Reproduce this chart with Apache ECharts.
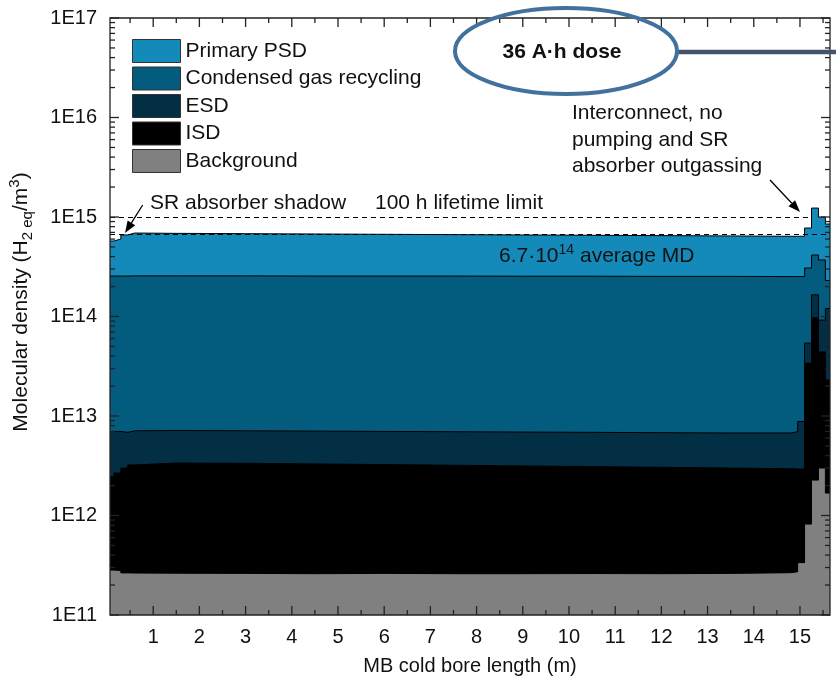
<!DOCTYPE html>
<html><head><meta charset="utf-8">
<script src="https://cdn.jsdelivr.net/npm/echarts@6/dist/echarts.min.js"></script>
<style>html,body{margin:0;padding:0;background:#fff}#c{width:836px;height:687px}</style>
</head><body><div id="c"></div>
<script>
// ---- data (upper boundary of each stacked layer, H2eq/m3) ----
const seriesNames = ['Primary PSD', 'Condensed gas recycling', 'ESD', 'ISD', 'Background'];
const seriesColors = ['#138ABA', '#035B7D', '#032F45', '#000000', '#808080'];
// left edge of each bin along the cold bore (m); last entry closes the final bin
const xEdges = [0.065, 0.15, 0.3, 0.45, 0.6, 1.5, 3, 4.5, 6, 7.5, 9, 10.5, 12, 13.5, 14.8, 14.95, 15.1, 15.25, 15.4, 15.55, 15.65];
const psdTop = [5.74e14, 6.0e14, 6.6e14, 6.9e14, 6.85e14, 6.8e14, 6.75e14, 6.7e14, 6.65e14, 6.6e14, 6.55e14, 6.5e14, 6.45e14, 6.4e14, 6.4e14, 6.4e14, 7.75e14, 1.23e15, 1.0e15, 8.5e14, 8.5e14];
const condensedTop = [2.55e14, 2.55e14, 2.55e14, 2.56e14, 2.56e14, 2.56e14, 2.55e14, 2.55e14, 2.55e14, 2.54e14, 2.54e14, 2.53e14, 2.53e14, 2.52e14, 2.52e14, 2.52e14, 3.07e14, 4.15e14, 3.7e14, 2.3e14, 2.3e14];
const esdTop = [7.0e12, 7.0e12, 6.85e12, 7.1e12, 7.15e12, 7.1e12, 7.05e12, 7.0e12, 6.95e12, 6.9e12, 6.85e12, 6.8e12, 6.75e12, 6.75e12, 6.95e12, 8.8e12, 5.4e13, 1.65e14, 9.2e13, 1.2e14, 1.2e14];
const isdTop = [2.46e12, 2.67e12, 3.0e12, 3.22e12, 3.37e12, 3.35e12, 3.3e12, 3.25e12, 3.2e12, 3.15e12, 3.1e12, 3.05e12, 3.0e12, 2.95e12, 2.93e12, 2.93e12, 3.4e13, 9.7e13, 4.4e13, 2.3e13, 2.3e13];
const backgroundTop = [2.83e11, 2.8e11, 2.65e11, 2.64e11, 2.63e11, 2.62e11, 2.6e11, 2.62e11, 2.6e11, 2.6e11, 2.61e11, 2.6e11, 2.62e11, 2.66e11, 2.72e11, 3.36e11, 8.2e11, 2.27e12, 3.0e12, 1.68e12, 1.68e12];
const layerValues = [psdTop, condensedTop, esdTop, isdTop, backgroundTop];
const lifetimeLimit = 1.0e15;
const averageMD = 6.7e14;
// ---- axes ----
const X_MIN = 0.065, X_MAX = 15.65;
const Y_MIN = 1e11, Y_MAX = 1e17;
const xLabelValues = [1,2,3,4,5,6,7,8,9,10,11,12,13,14,15];
const xMinorValues = [0.5,1.5,2.5,3.5,4.5,5.5,6.5,7.5,8.5,9.5,10.5,11.5,12.5,13.5,14.5,15.5];
const yMajorValues = [1e11,1e12,1e13,1e14,1e15,1e16,1e17];
const yMinorValues = [];
for (let e = 11; e < 17; e++) for (let k = 2; k <= 9; k++) yMinorValues.push(k * Math.pow(10, e));

const FONT = '"Liberation Sans", Arial, Helvetica, sans-serif';
const TXT = '#111';

const chart = echarts.init(document.getElementById('c'), null, {renderer: 'canvas'});

function layer(i) {
  const s = {
    name: seriesNames[i], type: 'line', step: 'end', symbol: 'none', showSymbol: false, silent: true,
    data: xEdges.map((x, j) => [x, layerValues[i][j]]),
    lineStyle: {color: '#000', width: 1},
    itemStyle: {color: seriesColors[i]},
    areaStyle: {color: seriesColors[i], opacity: 1, origin: 'start'},
    z: 2
  };
  if (i === 0) {
    s.markLine = {
      silent: true, symbol: 'none', label: {show: false},
      lineStyle: {color: '#000', type: [5, 4], width: 1.2},
      data: [
        [{coord: [X_MIN, lifetimeLimit]}, {coord: [15.25, lifetimeLimit]}],
        {yAxis: averageMD}
      ]
    };
  }
  return s;
}

const yTickData = yMajorValues.map(v => [X_MIN, v, 9]).concat(yMinorValues.map(v => [X_MIN, v, 5]));
const xTickData = xLabelValues.map(v => [v, Y_MIN, 9]).concat(xMinorValues.map(v => [v, Y_MIN, 5]));
const tickStyle = {stroke: '#222', lineWidth: 1.3};

const series = seriesNames.map((_, i) => layer(i));
series.push({
  type: 'custom', name: 'yticks', silent: true, clip: false, z: 10,
  encode: {x: 0, y: 1}, data: yTickData,
  renderItem: (params, api) => {
    const v = api.value(1), len = api.value(2);
    const a = api.coord([X_MIN, v]), b = api.coord([X_MAX, v]);
    return {type: 'group', children: [
      {type: 'line', shape: {x1: a[0], y1: a[1], x2: a[0] + len, y2: a[1]}, style: tickStyle},
      {type: 'line', shape: {x1: b[0], y1: b[1], x2: b[0] - len, y2: b[1]}, style: tickStyle}
    ]};
  }
});
series.push({
  type: 'custom', name: 'xticks', silent: true, clip: false, z: 10,
  encode: {x: 0, y: 1}, data: xTickData,
  renderItem: (params, api) => {
    const v = api.value(0), len = api.value(2);
    const a = api.coord([v, Y_MIN]), b = api.coord([v, Y_MAX]);
    return {type: 'group', children: [
      {type: 'line', shape: {x1: a[0], y1: a[1], x2: a[0], y2: a[1] - len}, style: tickStyle},
      {type: 'line', shape: {x1: b[0], y1: b[1], x2: b[0], y2: b[1] + len}, style: tickStyle}
    ]};
  }
});
series.push({
  type: 'custom', name: 'frame', silent: true, clip: false, z: 11,
  encode: {x: 0, y: 1}, data: [[X_MIN, Y_MIN]],
  renderItem: (params, api) => {
    const p = api.coord([X_MIN, Y_MAX]), q = api.coord([X_MAX, Y_MIN]);
    return {type: 'rect', shape: {x: p[0], y: p[1], width: q[0] - p[0], height: q[1] - p[1]},
      style: {fill: 'none', stroke: '#222', lineWidth: 1.3}};
  }
});

function arrow(x1, y1, x2, y2) {
  const dx = x2 - x1, dy = y2 - y1, L = Math.hypot(dx, dy);
  const ux = dx / L, uy = dy / L, hl = 12, hw = 4.5;
  const bx = x2 - ux * hl, by = y2 - uy * hl;
  return [
    {type: 'line', shape: {x1, y1, x2: bx, y2: by}, style: {stroke: '#000', lineWidth: 1.3}, z: 120},
    {type: 'polygon', shape: {points: [[x2, y2], [bx - uy * hw, by + ux * hw], [bx + uy * hw, by - ux * hw]]}, style: {fill: '#000'}, z: 120}
  ];
}

const option = {
  animation: false,
  backgroundColor: '#fff',
  grid: {left: 110, top: 18, width: 720, height: 597, containLabel: false},
  legend: {
    orient: 'vertical', left: 132, top: 39, padding: 0,
    itemWidth: 48, itemHeight: 23, itemGap: 3.5, icon: 'rect', selectedMode: false,
    textStyle: {fontSize: 21, color: TXT, fontFamily: FONT},
    data: seriesNames.map((n, i) => ({name: n, itemStyle: {color: seriesColors[i], borderColor: '#333', borderWidth: 1}}))
  },
  xAxis: {
    type: 'value', min: X_MIN, max: X_MAX,
    axisLine: {show: false}, axisTick: {show: false}, splitLine: {show: false},
    axisLabel: {customValues: xLabelValues, fontSize: 20, color: TXT, fontFamily: FONT, margin: 12},
    name: 'MB cold bore length (m)', nameLocation: 'middle', nameGap: 41,
    nameTextStyle: {fontSize: 20, color: TXT, fontFamily: FONT}
  },
  yAxis: {
    type: 'log', logBase: 10, min: Y_MIN, max: Y_MAX,
    axisLine: {show: false}, axisTick: {show: false}, splitLine: {show: false},
    axisLabel: {fontSize: 20, color: TXT, fontFamily: FONT, margin: 13,
      formatter: v => '1E' + Math.round(Math.log10(v))}
  },
  series: series,
  graphic: [
    {type: 'text', x: 21, y: 302, rotation: Math.PI / 2, style: {
      text: '{t|Molecular density (H}{sub|2 eq}{t|/m}{sup|3}{t|)}', align: 'center', verticalAlign: 'middle',
      rich: {
        t: {fontSize: 21, fill: TXT, fontFamily: FONT, lineHeight: 28},
        sub: {fontSize: 15, fill: TXT, fontFamily: FONT, verticalAlign: 'bottom'},
        sup: {fontSize: 15, fill: TXT, fontFamily: FONT, verticalAlign: 'top'}
      }
    }, z: 111},
    {type: 'ellipse', shape: {cx: 566, cy: 51, rx: 111, ry: 43}, style: {fill: 'none', stroke: '#41719C', lineWidth: 4}, z: 110},
    {type: 'line', shape: {x1: 677, y1: 52, x2: 836, y2: 52}, style: {stroke: '#44546A', lineWidth: 4.5}, z: 109},
    {type: 'text', x: 562, y: 52, style: {text: '36 A·h dose', fontSize: 21, fontWeight: 'bold', fontFamily: FONT, fill: TXT, align: 'center', verticalAlign: 'middle'}, z: 111},
    {type: 'text', x: 150, y: 203, style: {text: 'SR absorber shadow', fontSize: 21, fontFamily: FONT, fill: TXT, align: 'left', verticalAlign: 'middle'}, z: 111},
    {type: 'text', x: 375, y: 203, style: {text: '100 h lifetime limit', fontSize: 21, fontFamily: FONT, fill: TXT, align: 'left', verticalAlign: 'middle'}, z: 111},
    {type: 'text', x: 572, y: 100, style: {text: 'Interconnect, no\npumping and SR\nabsorber outgassing', fontSize: 21, lineHeight: 26.5, fontFamily: FONT, fill: TXT, align: 'left', verticalAlign: 'top'}, z: 111},
    {type: 'text', x: 499, y: 256, style: {
      text: '{a|6.7·10}{s|14}{a| average MD}', align: 'left', verticalAlign: 'middle',
      rich: {a: {fontSize: 21, fontFamily: FONT, fill: TXT, lineHeight: 26}, s: {fontSize: 14, fontFamily: FONT, fill: TXT, verticalAlign: 'top'}}
    }, z: 111}
  ].concat(arrow(770, 180, 800, 212), arrow(142.7, 205, 125, 233))
};
chart.setOption(option);
</script></body></html>
